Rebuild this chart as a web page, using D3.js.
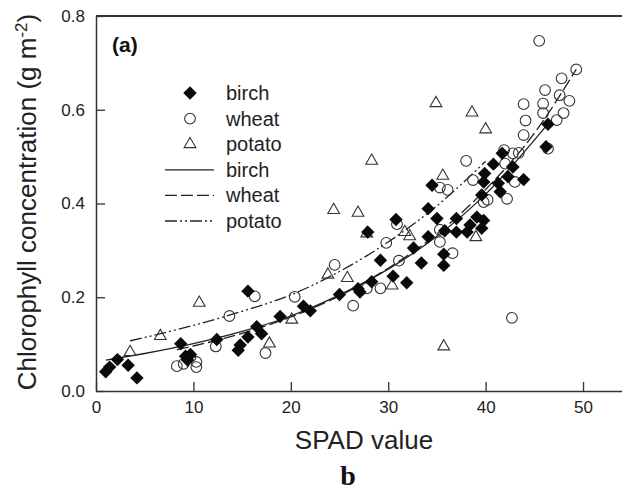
<!DOCTYPE html>
<html>
<head>
<meta charset="utf-8">
<script src="https://cdn.jsdelivr.net/npm/d3@7"></script>
<style>
  body { margin: 0; background: #fff; }
  svg { display: block; font-family: "Liberation Sans", Arial, sans-serif; }
</style>
</head>
<body>
<div id="plot"></div>
<script>
// data (SPAD value, chlorophyll g m-2)
var birchX = [1.0, 1.4, 2.2, 3.3, 4.2, 8.7, 9.2, 9.4, 9.7, 12.4, 14.6, 14.8, 15.6, 15.6, 16.5, 17.0, 18.9, 21.3, 22.0,
    25.0, 26.9, 27.1, 28.3, 27.9, 29.2, 30.5, 30.8, 31.9, 32.6, 33.4, 34.1, 34.1, 34.5, 35.0, 35.7, 35.7, 35.8,
    37.0, 37.0, 38.1, 38.4, 39.1, 39.6, 39.8, 39.6, 39.8, 39.9, 40.8, 41.3, 41.5, 41.7, 42.3, 42.8, 43.9, 46.2, 46.4];
var birchY = [0.041, 0.051, 0.067, 0.055, 0.028, 0.101, 0.074, 0.066, 0.078, 0.110, 0.087, 0.098, 0.115, 0.213, 0.137, 0.122, 0.159, 0.181, 0.171,
    0.206, 0.218, 0.211, 0.233, 0.339, 0.279, 0.245, 0.366, 0.231, 0.305, 0.273, 0.329, 0.389, 0.439, 0.368, 0.292, 0.268, 0.342,
    0.368, 0.339, 0.339, 0.354, 0.371, 0.347, 0.364, 0.418, 0.446, 0.464, 0.484, 0.443, 0.425, 0.507, 0.457, 0.478, 0.451, 0.521, 0.569];

var wheatX = [8.3, 9.0, 9.7, 10.3, 10.3, 12.3, 13.7, 16.3, 17.4, 20.4, 24.5, 26.4, 27.8, 29.2, 29.8, 30.9, 31.1, 35.3, 36.6,
    35.3, 35.3, 36.1, 38.0, 38.7, 39.8, 40.2, 41.9, 42.0, 42.2, 42.7, 42.8, 43.0, 43.4, 43.9, 43.9, 44.1, 45.5, 45.9, 45.9,
    46.1, 46.4, 47.3, 47.6, 47.8, 48.0, 48.6, 49.3];
var wheatY = [0.053, 0.058, 0.073, 0.062, 0.051, 0.095, 0.160, 0.202, 0.081, 0.201, 0.269, 0.182, 0.219, 0.219, 0.316, 0.356, 0.278, 0.318, 0.294,
    0.344, 0.434, 0.429, 0.491, 0.450, 0.403, 0.408, 0.514, 0.485, 0.410, 0.156, 0.507, 0.446, 0.508, 0.546, 0.612, 0.577, 0.747, 0.613, 0.593,
    0.642, 0.517, 0.578, 0.631, 0.667, 0.593, 0.619, 0.686];

var potatoX = [3.5, 6.6, 10.6, 17.8, 20.1, 23.8, 25.8, 24.4, 26.9, 27.8, 28.3, 30.4, 31.7, 32.2, 34.9, 35.6, 35.7, 38.6, 39.0, 40.0];
var potatoY = [0.083, 0.117, 0.188, 0.101, 0.152, 0.248, 0.241, 0.386, 0.380, 0.336, 0.491, 0.225, 0.339, 0.330, 0.614, 0.459, 0.095, 0.594, 0.328, 0.558];

// fitted curves
var birchFitX = [1, 5, 10, 15, 20, 25, 30, 35, 40, 46.4];
var birchFitY = [0.066, 0.080, 0.101, 0.127, 0.160, 0.205, 0.260, 0.330, 0.420, 0.570];
var wheatFitX = [8.3, 10, 15, 20, 25, 30, 35, 40, 45, 49.3];
var wheatFitY = [0.088, 0.096, 0.123, 0.158, 0.203, 0.262, 0.335, 0.430, 0.550, 0.686];
var potatoFitX = [3.5, 10, 15, 20, 25, 30, 35, 40];
var potatoFitY = [0.107, 0.140, 0.170, 0.205, 0.255, 0.318, 0.395, 0.490];

var xTicks = [0, 10, 20, 30, 40, 50];
var yTicks = [0, 0.2, 0.4, 0.6, 0.8];
var legendNames = ["birch", "wheat", "potato"];

var svgWidth = 622, svgHeight = 492;
var margin = { top: 16, right: 0, bottom: 101, left: 96 };

var svg = d3.select("#plot").append("svg")
    .attr("width", svgWidth)
    .attr("height", svgHeight);

var xScale = d3.scaleLinear().domain([0, 54]).range([margin.left, svgWidth - margin.right]);
var yScale = d3.scaleLinear().domain([0, 0.8]).range([svgHeight - margin.bottom, margin.top]);

function zip(xs, ys) { return xs.map((x, i) => [x, ys[i]]); }

// axes (ticks point inward)
var xAxis = d3.axisBottom(xScale).tickValues(xTicks).tickSizeInner(-9).tickSizeOuter(0).tickPadding(10).tickFormat(d3.format("d"));
var yAxis = d3.axisLeft(yScale).tickValues(yTicks).tickSizeInner(-9).tickSizeOuter(0).tickPadding(11).tickFormat(d3.format(".1f"));

var gx = svg.append("g").attr("transform", `translate(0, ${yScale(0)})`).call(xAxis);
var gy = svg.append("g").attr("transform", `translate(${xScale(0)}, 0)`).call(yAxis);
[gx, gy].forEach(g => {
    g.select(".domain").attr("stroke", "#333").attr("stroke-width", 1.5);
    g.selectAll(".tick line").attr("stroke", "#333").attr("stroke-width", 1.3);
    g.selectAll(".tick text").attr("fill", "#222").style("font-size", "17px").style("font-family", "Liberation Sans, Arial, sans-serif");
});

// top frame
svg.append("line")
    .attr("x1", xScale(0)).attr("x2", svgWidth)
    .attr("y1", yScale(0.8)).attr("y2", yScale(0.8))
    .attr("stroke", "#333").attr("stroke-width", 1.8);

// fit lines
var lineGen = d3.line().x(d => xScale(d[0])).y(d => yScale(d[1])).curve(d3.curveMonotoneX);
var dashes = ["none", "12,4", "12,3,2,3,2,3"];
var fits = [zip(birchFitX, birchFitY), zip(wheatFitX, wheatFitY), zip(potatoFitX, potatoFitY)];
fits.forEach((f, i) => {
    svg.append("path")
        .attr("d", lineGen(f))
        .attr("fill", "none")
        .attr("stroke", "#222")
        .attr("stroke-width", 1.3)
        .attr("stroke-dasharray", dashes[i]);
});

// symbols
var diamond = d3.symbol().type(d3.symbolSquare).size(90);
var circle = d3.symbol().type(d3.symbolCircle).size(90);
var triangle = d3.symbol().type(d3.symbolTriangle).size(60);

function drawDiamond(g, x, y) {
    g.append("path").attr("d", diamond())
        .attr("transform", `translate(${x},${y}) rotate(45)`)
        .attr("fill", "#0a0a0a");
}
function drawCircle(g, x, y) {
    g.append("path").attr("d", circle())
        .attr("transform", `translate(${x},${y})`)
        .attr("fill", "none").attr("stroke", "#333").attr("stroke-width", 1.1);
}
function drawTriangle(g, x, y) {
    g.append("path").attr("d", triangle())
        .attr("transform", `translate(${x},${y})`)
        .attr("fill", "none").attr("stroke", "#333").attr("stroke-width", 1.1);
}

var pts = svg.append("g");
zip(wheatX, wheatY).forEach(d => drawCircle(pts, xScale(d[0]), yScale(d[1])));
zip(potatoX, potatoY).forEach(d => drawTriangle(pts, xScale(d[0]), yScale(d[1])));
zip(birchX, birchY).forEach(d => drawDiamond(pts, xScale(d[0]), yScale(d[1])));

// legend
var legend = svg.append("g");
var drawers = [drawDiamond, drawCircle, drawTriangle];
var rowH = 25.6, legTop = 93;
legendNames.forEach((name, i) => {
    drawers[i](legend, 190, legTop + i * rowH);
    legend.append("text").attr("x", 226).attr("y", legTop + i * rowH + 7)
        .style("font-size", "20px").attr("fill", "#222").text(name);
});
legendNames.forEach((name, i) => {
    var y = legTop + (i + 3) * rowH;
    legend.append("line").attr("x1", 165).attr("x2", 214).attr("y1", y).attr("y2", y)
        .attr("stroke", "#222").attr("stroke-width", 1.3).attr("stroke-dasharray", dashes[i]);
    legend.append("text").attr("x", 226).attr("y", y + 7)
        .style("font-size", "20px").attr("fill", "#222").text(name);
});

// texts
svg.append("text").attr("x", 112).attr("y", 52)
    .style("font-size", "21px").style("font-weight", "bold").attr("fill", "#111").text("(a)");

svg.append("text").attr("x", 364).attr("y", 449)
    .attr("text-anchor", "middle").style("font-size", "26px").attr("fill", "#222").text("SPAD value");

var yl = svg.append("text")
    .attr("transform", "translate(36, 202) rotate(-90)")
    .attr("text-anchor", "middle").style("font-size", "26px").attr("fill", "#222");
yl.append("tspan").text("Chlorophyll concentration (g m");
yl.append("tspan").attr("baseline-shift", "super").style("font-size", "17px").text("-2");
yl.append("tspan").text(")");

svg.append("text").attr("x", 348).attr("y", 485)
    .attr("text-anchor", "middle")
    .style("font-family", "Liberation Serif, 'DejaVu Serif', serif")
    .style("font-size", "28px").style("font-weight", "bold").attr("fill", "#111").text("b");
</script>
</body>
</html>
